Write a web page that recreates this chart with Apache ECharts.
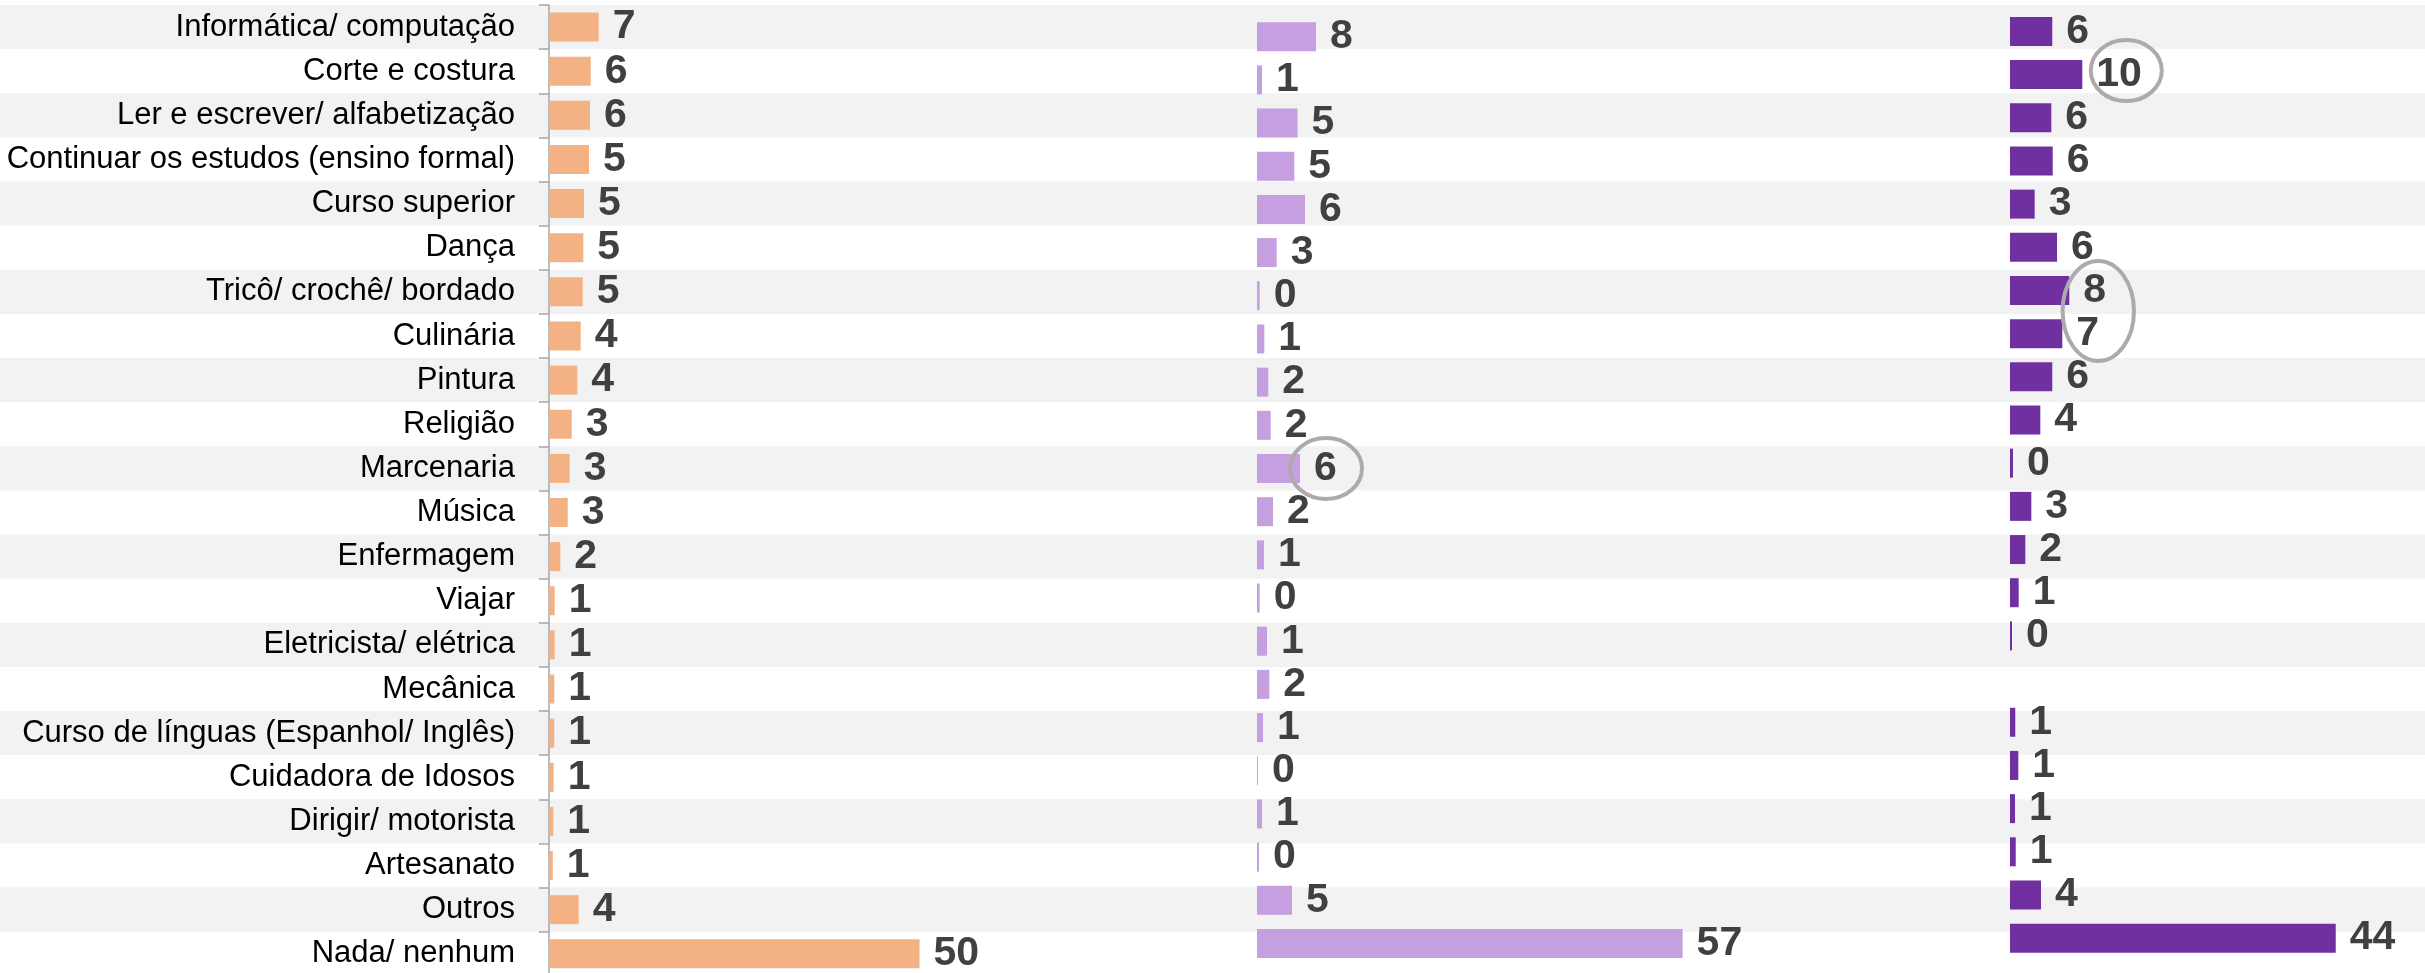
<!DOCTYPE html>
<html><head><meta charset="utf-8">
<script src="https://cdn.jsdelivr.net/npm/echarts@6/dist/echarts.min.js"></script>
<style>html,body{margin:0;padding:0;background:#fff}#c{width:2425px;height:973px}</style>
</head><body><div id="c"></div>
<script>
const categories = [
  'Informática/ computação','Corte e costura','Ler e escrever/ alfabetização',
  'Continuar os estudos (ensino formal)','Curso superior','Dança','Tricô/ crochê/ bordado',
  'Culinária','Pintura','Religião','Marcenaria','Música','Enfermagem','Viajar',
  'Eletricista/ elétrica','Mecânica','Curso de línguas (Espanhol/ Inglês)','Cuidadora de Idosos',
  'Dirigir/ motorista','Artesanato','Outros','Nada/ nenhum'
];
const seriesA = [6.69,5.61,5.52,5.38,4.71,4.62,4.54,4.27,3.81,3.06,2.79,2.52,1.52,0.77,0.77,0.71,0.71,0.63,0.58,0.51,4.0,49.87];
const seriesB = [7.94,0.67,5.45,5.02,6.46,2.65,0.36,0.98,1.52,1.84,5.79,2.15,0.94,0.36,1.35,1.66,0.81,0.13,0.67,0.27,4.71,57.28];
const seriesC = [5.69,9.73,5.56,5.75,3.32,6.33,7.98,7.04,5.69,4.08,0.40,2.87,2.06,1.17,0.27,null,0.71,1.12,0.67,0.77,4.17,43.84];
const highlightB = ['Marcenaria'];
const highlightC = [['Corte e costura'], ['Tricô/ crochê/ bordado','Culinária']];

const PX = 7.43; // pixels per unit
const labelStyle = {
  show: true, position: 'right', distance: 14,
  fontFamily: "'Liberation Sans', Arial, sans-serif", fontWeight: 'bold', fontSize: 41, color: '#404040',
  formatter: p => (p.value == null ? '' : String(Math.round(p.value)))
};
const chart = echarts.init(document.getElementById('c'), null, {renderer: 'canvas'});
const panels = [
  {left: 549, top: 5, pitch: 44.13, max: 60, data: seriesA, color: '#f4b183'},
  {left: 1257, top: 15.1, pitch: 43.18, max: 60, data: seriesB, color: '#c59fe0'},
  {left: 2010, top: 9.8, pitch: 43.18, max: 55, data: seriesC, color: '#7030a0'}
];
const grid = [{left: 0, top: 5, width: 2425, height: 22 * 44.13, containLabel: false, outerBoundsMode: 'none'}];
const xAxis = [{gridIndex: 0, type: 'value', show: false, min: 0, max: 1}];
const yAxis = [{gridIndex: 0, type: 'category', data: categories, inverse: true, show: true,
  axisLine: {show: false}, axisTick: {show: false}, axisLabel: {show: false}, splitLine: {show: false},
  splitArea: {show: true, areaStyle: {color: ['#f2f2f2', '#ffffff']}}}];
const series = [];
panels.forEach((p, i) => {
  const g = i + 1;
  grid.push({left: p.left, top: p.top, width: p.max * PX, height: 22 * p.pitch, containLabel: false, outerBoundsMode: 'none'});
  xAxis.push({gridIndex: g, type: 'value', min: 0, max: p.max, show: false});
  yAxis.push({gridIndex: g, type: 'category', data: categories, inverse: true, show: i === 0,
    axisLine: {show: true, lineStyle: {color: '#a6a6a6', width: 1.5}},
    axisTick: {show: true, length: 10, lineStyle: {color: '#a6a6a6', width: 1.5}},
    splitLine: {show: false}, splitArea: {show: false},
    axisLabel: {show: true, margin: 34, fontFamily: "'Liberation Sans', Arial, sans-serif",
      fontSize: 31, color: '#000000', interval: 0}});
  series.push({type: 'bar', xAxisIndex: g, yAxisIndex: g, data: p.data, barWidth: 29,
    itemStyle: {color: p.color}, label: labelStyle, silent: true, animation: false});
});
chart.setOption({animation: false, grid, xAxis, yAxis, series});

function ringFor(axisIdx, cats, values, dx, dy, rx, ry) {
  const pts = cats.map(c => chart.convertToPixel({xAxisIndex: axisIdx, yAxisIndex: axisIdx}, [values[categories.indexOf(c)], c]));
  const x = pts[0][0];
  const cy = pts.reduce((s, q) => s + q[1], 0) / pts.length;
  return {type: 'ellipse', z: 100, silent: true,
    shape: {cx: x + dx, cy: cy + dy, rx: rx, ry: ry},
    style: {fill: 'none', stroke: '#aeaaaa', lineWidth: 4}};
}
const graphic = [
  ringFor(2, highlightB, seriesB, 26, 0, 36, 30.5),
  ringFor(3, highlightC[0], seriesC, 44, -4, 35.5, 30.5),
  ringFor(3, highlightC[1], seriesC, 29, -1, 35.7, 50)
];
chart.setOption({graphic});
</script></body></html>
